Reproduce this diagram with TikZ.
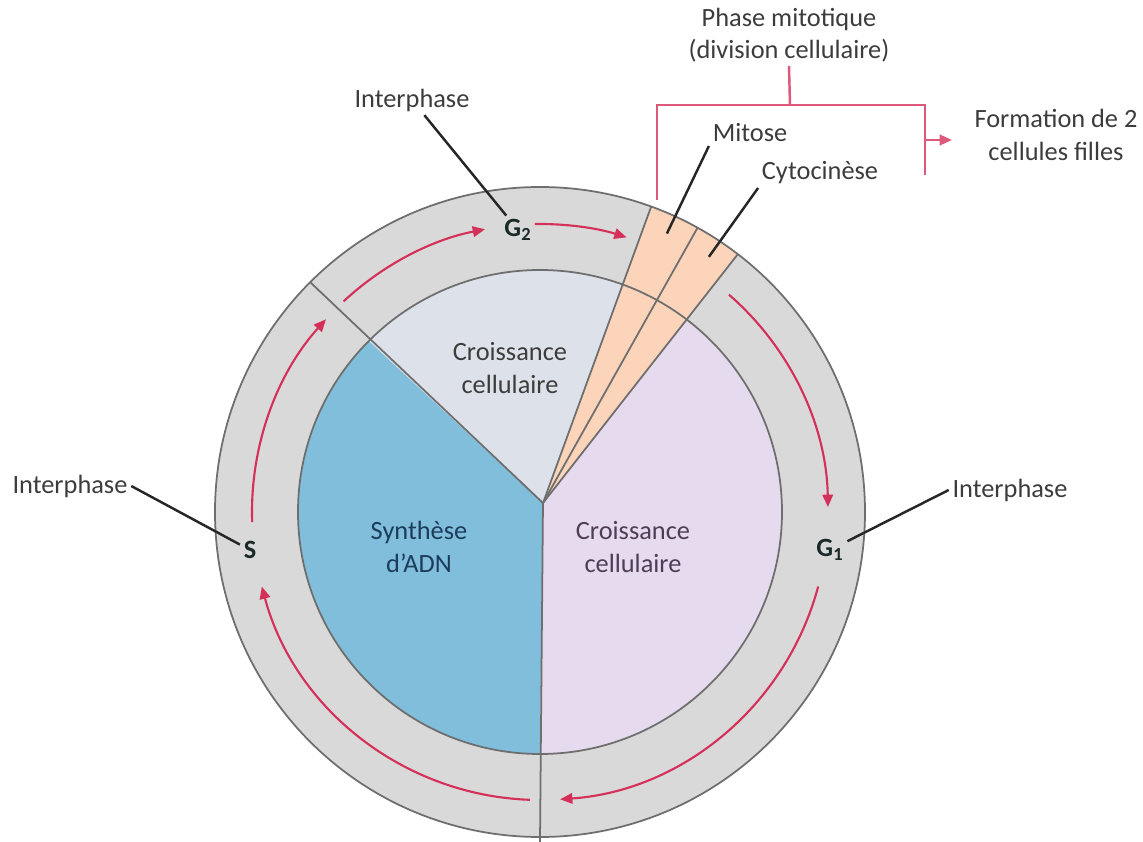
\documentclass[tikz,border=0pt]{standalone}
\usepackage{fontspec}
\setmainfont{Carlito}
\usepackage{tikz}
\usetikzlibrary{arrows.meta}
\definecolor{RingGray}{HTML}{D9D9D9}
\definecolor{EdgeGray}{HTML}{6E6E6E}
\definecolor{SynthBlue}{HTML}{80BEDC}
\definecolor{GrowthTop}{HTML}{DDE2EA}
\definecolor{GrowthLilac}{HTML}{E6DAEE}
\definecolor{MitoPeach}{HTML}{FCD4BA}
\definecolor{CycleRed}{HTML}{D4305A}
\definecolor{LabelGray}{HTML}{3C3C3C}
\definecolor{SynthInk}{HTML}{1D3C5A}
\definecolor{LilacInk}{HTML}{4D3D55}
\definecolor{PhaseInk}{HTML}{1A2A28}

\begin{document}
\begin{tikzpicture}[
    x=0.02cm, y=0.02cm,
    every node/.style={
        font=\fontsize{15}{18.5}\selectfont,
        text=LabelGray,
        align=center,
        inner sep=2pt
    },
    rim/.style={draw=EdgeGray, line width=1pt},
    cyclearrow/.style={draw=CycleRed, line width=1.2pt, -{Triangle[length=7pt,width=6pt]}},
    pointer/.style={draw=black!85, line width=1.4pt},
    bracket/.style={draw=CycleRed!80, line width=1.4pt},
    phase/.style={font=\fontsize{15}{18}\selectfont\bfseries, text=PhaseInk}
]
\useasboundingbox (-540,-330) rectangle (603,512);

% Ring and sectors
\coordinate (hub) at (3,9);
\fill[RingGray] (0,0) circle (325);
\fill[SynthBlue] (hub) -- (135:242) arc (135:270:242) -- cycle;
\fill[GrowthLilac] (hub) -- (-90:242) arc (-90:52.5:242) -- cycle;
\fill[GrowthTop] (hub) -- (70:242) arc (70:135:242) -- cycle;
\fill[MitoPeach] (hub) -- (52.5:325) arc (52.5:70:325) -- cycle;

\draw[rim] (0,0) circle (325);
\draw[rim] (0,0) circle (242);
\draw[rim] (hub) -- (135:325);
\draw[rim] (hub) -- (0,-330);
\foreach \a in {52.5,61,70}
    \draw[rim] (hub) -- (\a:325);

% Cycle arrows
\draw[cyclearrow] (-15:288) arc (-15:-86:288);
\draw[cyclearrow] (-92:288) arc (-92:-165:288);
\draw[cyclearrow] (182:288) arc (182:138:288);
\draw[cyclearrow] (133:288) arc (133:101:288);
\draw[cyclearrow] (91:288) arc (91:72.5:288);
\draw[cyclearrow] (49:288) arc (49:1:288);

% Phase letters
\node[phase] (g2) at (-22,282) {G\textsubscript{2}};
\node[phase] (s) at (-290,-38) {S};
\node[phase] (g1) at (290,-38) {G\textsubscript{1}};

% Sector labels
\node[text=SynthInk] (synth) at (-121,-35) {Synthèse\\d’ADN};
\node[text=LilacInk] (growright) at (93,-35) {Croissance\\cellulaire};
\node (growtop) at (-30,144) {Croissance\\cellulaire};

% Interphase labels
\node (itop) at (-128,412) {Interphase};
\node (ileft) at (-470,26) {Interphase};
\node (iright) at (470,22) {Interphase};
\draw[pointer] (itop) -- (g2);
\draw[pointer] (ileft.east) -- (s);
\draw[pointer] (iright.west) -- (g1);

% Mitotic phase
\node (phase) at (249,477) {Phase mitotique\\(division cellulaire)};
\node (mitose) at (210,379) {Mitose};
\node (cyto) at (280,339) {Cytocinèse};
\node (formation) at (516,377) {Formation de 2\\cellules filles};
\coordinate (mitpt) at (65.5:306);
\coordinate (cytopt) at (56.5:306);
\draw[pointer] (mitose.south west) -- (mitpt);
\draw[pointer] (cyto.south west) -- (cytopt);

% Bracket
\coordinate (brstem) at (250,407);
\coordinate (brfoot) at (117,312);
\coordinate (brright) at (385,407);
\coordinate (brend) at (385,337);
\coordinate (brmid) at (385,372);
\coordinate (brtip) at (412,372);
\draw[bracket] (phase.south) -- (brstem);
\draw[bracket] (brfoot) |- (brright) -- (brend);
\draw[bracket, -{Triangle[length=7pt,width=6pt]}] (brmid) -- (brtip);
\end{tikzpicture}
\end{document}
